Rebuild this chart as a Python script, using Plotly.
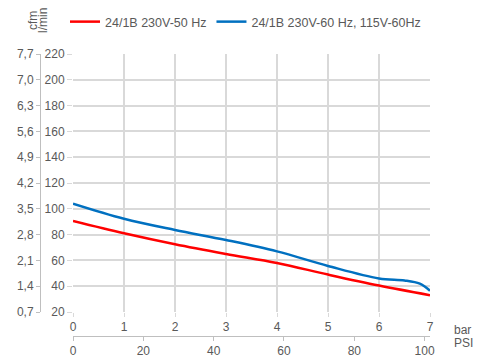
import plotly.graph_objects as go

# Data -----------------------------------------------------------------------
bar_50 = [0, 1, 2, 3, 4, 5, 6, 7]
flow_50 = [90.5, 81, 72.5, 65, 58, 49, 40.5, 33]

bar_60 = [0, 1, 2, 3, 4, 5, 6, 6.5, 6.8, 7]
flow_60 = [104, 92.3, 83.6, 75.8, 67, 55.7, 46, 44.5, 42, 36.5]

lmin_ticks = [20, 40, 60, 80, 100, 120, 140, 160, 180, 200, 220]
cfm_labels = ['0,7', '1,4', '2,1', '2,8', '3,5', '4,2', '4,9', '5,6', '6,3', '7,0', '7,7']
bar_ticks = [0, 1, 2, 3, 4, 5, 6, 7]
psi_ticks = [0, 20, 40, 60, 80, 100]

name_50 = '24/1B 230V-50 Hz'
name_60 = '24/1B 230V-60 Hz, 115V-60Hz'
# ---------------------------------------------------------------------------

GRID = '#d9d9d9'
AXIS = '#bfbfbf'
TXT = '#595959'
FONT = 'Liberation Sans, Arial, sans-serif'

W, H = 478, 358


def px(x):  # pixel -> paper x
    return x / W


def py(y):  # pixel -> paper y
    return 1 - y / H


fig = go.Figure()
fig.add_trace(go.Scatter(x=bar_50, y=flow_50, name=name_50, mode='lines',
                         line=dict(color='#ff0000', width=2.5, shape='spline')))
fig.add_trace(go.Scatter(x=bar_60, y=flow_60, name=name_60, mode='lines',
                         line=dict(color='#0070c0', width=2.5, shape='spline')))
# invisible trace so the secondary axes are drawn
fig.add_trace(go.Scatter(x=[0], y=[20], xaxis='x2', yaxis='y2', mode='markers',
                         marker=dict(opacity=0), showlegend=False, hoverinfo='skip'))

fig.update_layout(
    width=W, height=H,
    margin=dict(l=0, r=0, t=0, b=0, autoexpand=False),
    paper_bgcolor='white', plot_bgcolor='white',
    font=dict(family=FONT, size=12, color=TXT),
    showlegend=True,
    legend=dict(orientation='h', x=px(65), y=py(22), xanchor='left', yanchor='middle',
                font=dict(size=12.5, color=TXT), itemwidth=30, bgcolor='rgba(0,0,0,0)'),
    xaxis=dict(domain=[px(73), px(430)], range=[0, 7], tickvals=bar_ticks, automargin=False,
               showgrid=True, gridcolor=GRID, gridwidth=1.5, zeroline=False,
               ticks='outside', ticklen=4, tickcolor=GRID, showline=False,
               tickfont=dict(size=12, color=TXT)),
    yaxis=dict(domain=[py(312), py(54)], range=[20, 220], tickvals=lmin_ticks, automargin=False,
               showgrid=True, gridcolor=GRID, gridwidth=1.5, zeroline=False,
               ticks='outside', ticklen=5, tickcolor=GRID, showline=False,
               tickfont=dict(size=12, color=TXT)),
    xaxis2=dict(overlaying='x', anchor='free', position=py(336), side='bottom', automargin=False,
                range=[0, 7 * 14.5038], tickvals=psi_ticks, showgrid=False, zeroline=False,
                showline=True, linecolor=AXIS, linewidth=1,
                ticks='outside', ticklen=4, tickcolor=AXIS,
                tickfont=dict(size=12, color=TXT)),
    yaxis2=dict(overlaying='y', anchor='free', position=px(40), side='left', automargin=False,
                range=[20, 220], tickvals=lmin_ticks, ticktext=cfm_labels,
                showgrid=False, zeroline=False,
                showline=True, linecolor=AXIS, linewidth=1,
                ticks='outside', ticklen=4, tickcolor=AXIS,
                tickfont=dict(size=12, color=TXT)),
)

for txt, x, y in [('cfm', 33, 21), ('l/min', 43, 21)]:
    fig.add_annotation(text=txt, x=px(x), y=py(y), xref='paper', yref='paper', textangle=-90,
                       xanchor='center', yanchor='middle',
                       showarrow=False, font=dict(size=12, color=TXT))
for txt, y in [('bar', 330), ('PSI', 343)]:
    fig.add_annotation(text=txt, x=px(452), y=py(y), xref='paper', yref='paper',
                       xanchor='left', yanchor='middle', showarrow=False,
                       font=dict(size=12, color=TXT))

# drop the default 8px body margin so the figure fills the window exactly
fig.write_html('out.html', config={'displayModeBar': False},
               post_script="document.body.style.margin='0';document.body.style.overflow='hidden';")
